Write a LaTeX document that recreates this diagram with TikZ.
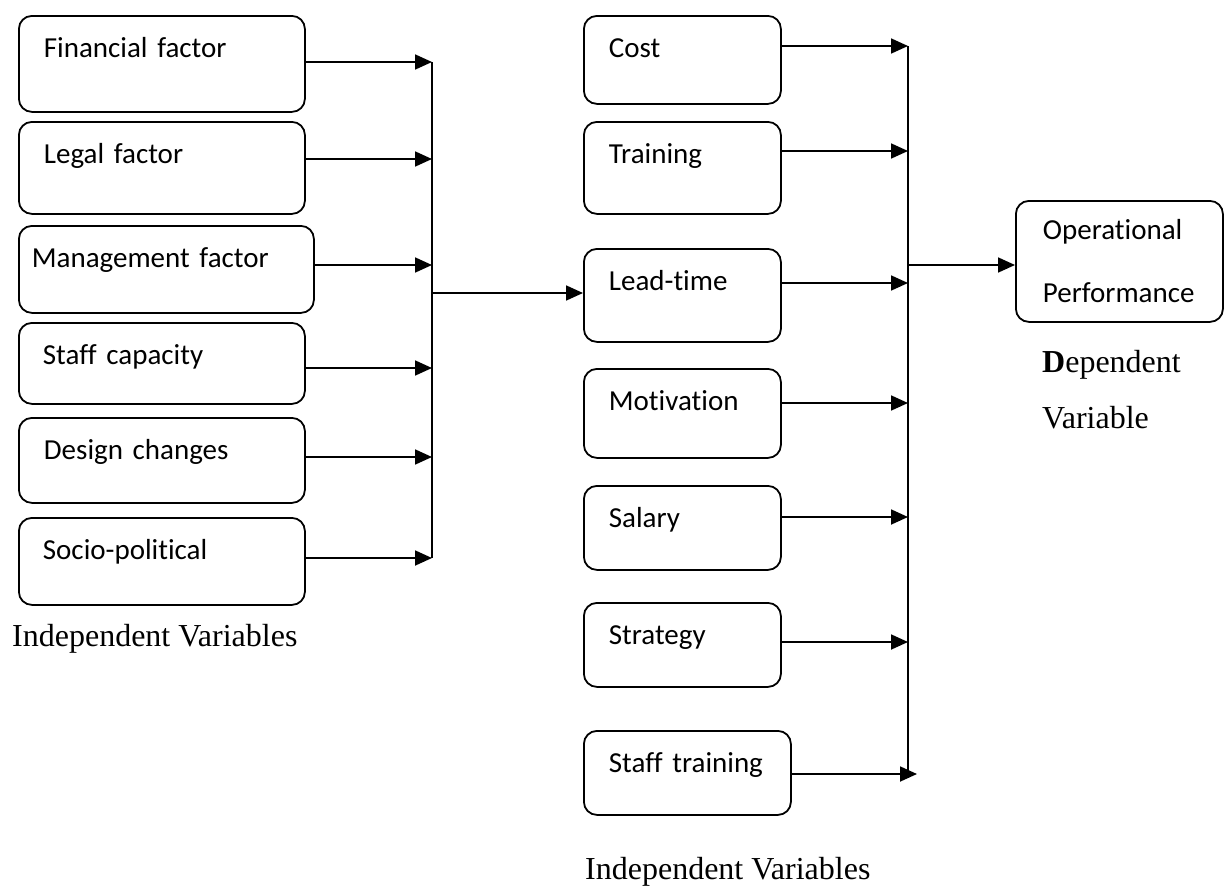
\documentclass[tikz,border=0pt]{standalone}
\usepackage{fontspec}
\setmainfont{Liberation Serif}
\newfontfamily\boxfont[Ligatures=NoCommon]{Carlito}
\usetikzlibrary{arrows.meta}

\begin{document}
\begin{tikzpicture}
      [x=1pt,y=-1pt
      ,box/.style={draw=black,line width=1.8pt,rounded corners=13pt,anchor=north west,inner ysep=0pt,align=left,font=\boxfont\fontsize{29}{35}\selectfont}
      ,arr/.style={line width=1.8pt,-{Triangle[length=17pt,width=15pt]}}
      ,bar/.style={line width=1.6pt}
      ,caption/.style={anchor=base west,inner sep=0pt,font=\fontsize{32}{38}\selectfont}
      ]
        \useasboundingbox (0,0) rectangle (1224,886);

        % left column: name/text/top/width/height/indent/arrow y
        \foreach \n/\t/\y/\w/\h/\i/\a in {l1/Financial factor/15/286/96/25/62, l2/Legal factor/121/286/92/25/159, l3/Management factor/225/295/87/13/265, l4/Staff capacity/322/286/81/24/368, l5/Design changes/417/286/85/25/457, l6/Socio-political/517/286/87/24/558}
        {
            \pgfmathsetmacro\tw{\w-2*\i}
            \pgfmathsetmacro\td{\h-42}
            \node[box,inner xsep=\i pt,text width=\tw pt,text height=42pt,text depth=\td pt] (\n) at (18,\y) {\t};
            \coordinate (e\n) at (432,\a);
            \draw[arr] (\n.east |- e\n) -- (e\n);
        }
        \draw[bar] (el1) -- (el6);

        % middle column
        \foreach \n/\t/\y/\w/\h/\i/\a/\ex in {m1/Cost/15/197/88/25/46/908, m2/Training/121/197/92/25/151/908, m3/Lead-time/248/197/93/25/283/908, m4/Motivation/368/197/89/25/403/908, m5/Salary/485/197/84/25/517/908, m6/Strategy/602/197/84/25/642/908, m7/Staff training/730/207/84/25/774/917}
        {
            \pgfmathsetmacro\tw{\w-2*\i}
            \pgfmathsetmacro\td{\h-42}
            \node[box,inner xsep=\i pt,text width=\tw pt,text height=42pt,text depth=\td pt] (\n) at (583,\y) {\t};
            \coordinate (e\n) at (\ex,\a);
            \draw[arr] (\n.east |- e\n) -- (e\n);
        }
        \draw[bar] (em1) -- (em1 |- em7);

        % dependent variable
        \node[box,inner xsep=27pt,text width=153pt,text height=39pt,text depth=82pt,font=\boxfont\fontsize{29}{63}\selectfont] (op) at (1015,200) {Operational\\Performance};

        \coordinate (jl) at (432,293);
        \coordinate (jr) at (908,265);
        \draw[arr] (jl) -- (jl -| m3.west);
        \draw[arr] (jr) -- (jr -| op.west);

        \node[caption] (capL) at (12,646) {Independent Variables};
        \node[caption] (capM) at (585,879) {Independent Variables};
        % base of a two-line node sits on its last line
        \node[caption,align=left,font=\fontsize{32}{56}\selectfont] (capR) at (1042,428) {\textbf{D}ependent\\Variable};

       \end{tikzpicture}
\end{document}
